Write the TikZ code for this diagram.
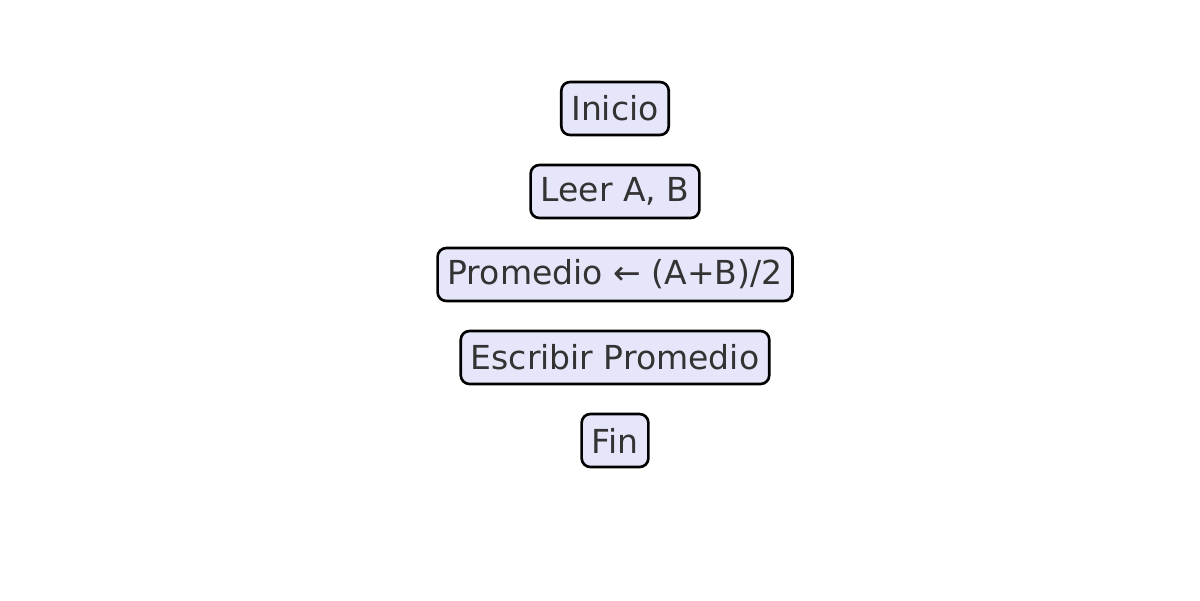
\documentclass[tikz,border=0pt]{standalone}
\usepackage{fontspec}
\setmainfont{DejaVu Sans}
\definecolor{boxfill}{RGB}{230,230,250}
\definecolor{boxtext}{RGB}{51,51,51}
\tikzset{paso/.style={draw=black,fill=boxfill,text=boxtext,line width=1.5pt,rounded corners=5pt,minimum height=1.06cm,inner xsep=0.2cm,font=\fontsize{18.8pt}{22pt}\selectfont}}

\begin{document}
\begin{tikzpicture}
   \useasboundingbox (0,0) rectangle (24,-12);
   \node[paso] (inicio) at (12.3,-2.17) {Inicio};
   \node[paso] (leer) at (12.3,-3.83) {Leer A, B};
   \node[paso] (promedio) at (12.3,-5.49) {Promedio ← (A+B)/2};
   \node[paso] (escribir) at (12.3,-7.15) {Escribir Promedio};
   \node[paso] (fin) at (12.3,-8.81) {Fin};
\end{tikzpicture}
\end{document}
